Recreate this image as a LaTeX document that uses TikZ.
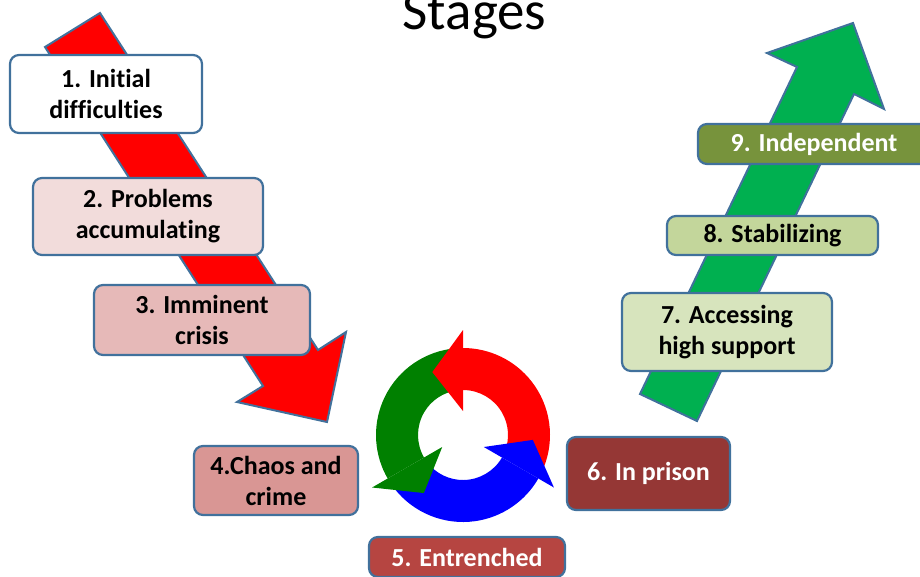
\documentclass[tikz,border=0pt]{standalone}
\usepackage{fontspec}
\setmainfont[Ligatures=NoCommon]{Carlito}
\definecolor{edgeblue}{HTML}{41719C}
\definecolor{stwo}{HTML}{F2DCDB}
\definecolor{sthree}{HTML}{E6B9B8}
\definecolor{sfour}{HTML}{D99694}
\definecolor{sfive}{HTML}{B64541}
\definecolor{ssix}{HTML}{953735}
\definecolor{sseven}{HTML}{D7E4BD}
\definecolor{seight}{HTML}{C3D69B}
\definecolor{snine}{HTML}{77933C}
\definecolor{upgreen}{HTML}{00B050}
\definecolor{loopgreen}{HTML}{008000}

\begin{document}
\begin{tikzpicture}[x=1pt, y=-1pt,
   stage/.style = {draw=edgeblue, line width=2.2pt, rounded corners=9pt,
      inner sep=0pt, align=center,
      font=\bfseries\fontsize{26}{31}\selectfont},
   bigarrow/.style = {draw=edgeblue, line width=2pt, line join=miter}]
   \useasboundingbox (0,0) rectangle (920,576);
   \clip (0,0) rectangle (920,576);

   \node[anchor=base, font=\fontsize{55}{66}\selectfont] (title) at (474.5,29) {Stages};

   % going down
   \draw[bigarrow, fill=red] (45,47) -- (263,386) -- (237,402) -- (327,422)
      -- (346,332) -- (318,350) -- (100,13) -- cycle;
   % going up
   \draw[bigarrow, fill=upgreen] (640,394) -- (797,67) -- (767,53) -- (853,23)
      -- (884,109) -- (854,94) -- (697,421) -- cycle;

   % the loop
   \begin{scope}[shift={(463,435)}]
      \foreach \col/\b in {red/90, loopgreen/210, blue/330}
         \fill[\col] ({\b-112}:87pt) arc[start angle=\b-112, end angle=\b, radius=87pt]
            -- (\b:45pt) arc[start angle=\b, end angle=\b-112, radius=45pt] -- cycle;
      \foreach \col/\b in {red/90, loopgreen/210, blue/330}
         \fill[\col] (\b:24pt) -- (\b:105pt) -- ({\b+26}:70pt) -- cycle;
   \end{scope}

   \node[stage, fill=white, minimum width=192pt, minimum height=78pt] (s1) at (106,94) {1. Initial\\difficulties};
   \node[stage, fill=stwo, minimum width=230pt, minimum height=77pt] (s2) at (148,216.5) {2. Problems\\accumulating};
   \node[stage, fill=sthree, minimum width=216pt, minimum height=70pt] (s3) at (202,320) {3. Imminent\\crisis};
   \node[stage, fill=sfour, minimum width=164pt, minimum height=69pt] (s4) at (276,480.5) {4.Chaos and\\crime};
   \node[stage, fill=sfive, text=white, minimum width=196pt, minimum height=40pt] (s5) at (467,557) {5. Entrenched};
   \node[stage, fill=ssix, text=white, minimum width=163pt, minimum height=73pt] (s6) at (648.5,473.5) {6. In prison};
   \node[stage, fill=sseven, minimum width=210pt, minimum height=78pt] (s7) at (727,332) {7. Accessing\\high support};
   \node[stage, fill=seight, minimum width=211pt, minimum height=39pt] (s8) at (772.5,235.5) {8. Stabilizing};
   \node[stage, fill=snine, text=white, minimum width=232pt, minimum height=40pt] (s9) at (814,144) {9. Independent};
\end{tikzpicture}
\end{document}
